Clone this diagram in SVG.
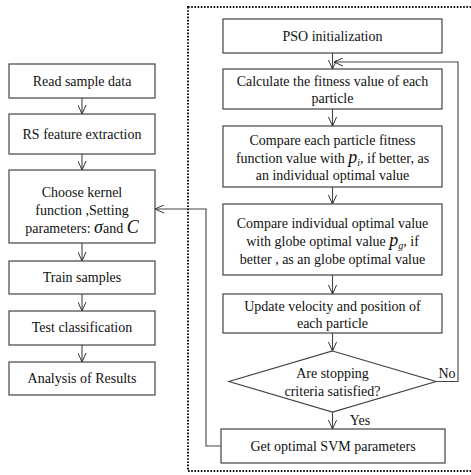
<svg xmlns="http://www.w3.org/2000/svg" width="471" height="475" viewBox="0 0 471 475">
<defs>
<marker id="ah" viewBox="0 0 10 10" refX="10" refY="5" markerWidth="9" markerHeight="9" orient="auto" markerUnits="userSpaceOnUse">
<path d="M0,0.5 L10,5 L0,9.5" fill="none" stroke="#333" stroke-width="1.1"/>
</marker>
<style>
.box{fill:#fff;stroke:#444;stroke-width:1.2}
text{font-family:'Liberation Serif','Times New Roman','DejaVu Serif',serif;font-size:14px;fill:#111;text-anchor:middle}
.m{font-style:italic;font-size:18px}
.s{font-style:italic;font-size:10px}
.a{fill:none;stroke:#444;stroke-width:1.1;marker-end:url(#ah)}
</style>
</defs>
<rect x="188" y="7" width="300" height="464" fill="none" stroke="#111" stroke-width="2" stroke-dasharray="1.6,1.6"/>
<g id="connectors">
<line class="a" x1="82" y1="98" x2="82" y2="114"/>
<line class="a" x1="82" y1="154" x2="82" y2="170"/>
<line class="a" x1="82" y1="243" x2="82" y2="261"/>
<line class="a" x1="82" y1="294" x2="82" y2="311"/>
<line class="a" x1="82" y1="345" x2="82" y2="362"/>
<line class="a" x1="332.5" y1="53" x2="332.5" y2="69"/>
<line class="a" x1="332.5" y1="109" x2="332.5" y2="126"/>
<line class="a" x1="332.5" y1="187" x2="332.5" y2="204"/>
<line class="a" x1="332.5" y1="275" x2="332.5" y2="294"/>
<line class="a" x1="332.5" y1="333" x2="332.5" y2="351"/>
<line class="a" x1="332.5" y1="412" x2="332.5" y2="429"/>
<polyline class="a" points="436,381.5 458,381.5 458,62 334,62"/>
<polyline class="a" points="221,446 206,446 206,209 155,209"/>
</g>
<g id="n1"><rect class="box" x="9" y="64" width="146" height="34"/><text x="82" y="86">Read sample data</text></g>
<g id="n2"><rect class="box" x="9" y="114" width="146" height="40"/><text x="82" y="139">RS feature extraction</text></g>
<g id="n3"><rect class="box" x="9" y="170" width="146" height="73"/>
<text x="82" y="197">Choose kernel</text>
<text x="82" y="215">function ,Setting</text>
<text x="82" y="233">parameters: <tspan class="m">σ</tspan>and <tspan class="m">C</tspan></text></g>
<g id="n4"><rect class="box" x="9" y="261" width="146" height="33"/><text x="82" y="282">Train samples</text></g>
<g id="n5"><rect class="box" x="9" y="311" width="146" height="34"/><text x="82" y="332">Test classification</text></g>
<g id="n6"><rect class="box" x="9" y="362" width="146" height="33"/><text x="82" y="383">Analysis of Results</text></g>
<g id="r1"><rect class="box" x="223" y="19" width="219" height="34"/><text x="332.5" y="41">PSO initialization</text></g>
<g id="r2"><rect class="box" x="223" y="69" width="219" height="40"/>
<text x="332.5" y="86">Calculate the fitness value of each</text>
<text x="332.5" y="103">particle</text></g>
<g id="r3"><rect class="box" x="223" y="126" width="219" height="61"/>
<text x="332.5" y="145">Compare each particle fitness</text>
<text x="332.5" y="163">function value with  <tspan class="m">p</tspan><tspan class="s" dy="3">i</tspan><tspan dy="-3">, if better, as</tspan></text>
<text x="332.5" y="180">an individual optimal value</text></g>
<g id="r4"><rect class="box" x="223" y="204" width="219" height="71"/>
<text x="332.5" y="228">Compare individual optimal value</text>
<text x="332.5" y="246">with globe optimal value  <tspan class="m">p</tspan><tspan class="s" dy="3">g</tspan><tspan dy="-3">, if</tspan></text>
<text x="332.5" y="264">better , as an globe optimal value</text></g>
<g id="r5"><rect class="box" x="223" y="294" width="219" height="39"/>
<text x="332.5" y="311">Update velocity and position of</text>
<text x="332.5" y="328">each particle</text></g>
<g id="r6"><polygon class="box" points="332.5,351 436,381.5 332.5,412 229,381.5"/>
<text x="332.5" y="378">Are stopping</text>
<text x="332.5" y="396">criteria satisfied?</text></g>
<g id="r7"><rect class="box" x="221" y="429" width="224" height="34"/><text x="333" y="451">Get optimal SVM parameters</text></g>
<text x="447" y="378">No</text>
<text x="360" y="425">Yes</text>
</svg>
